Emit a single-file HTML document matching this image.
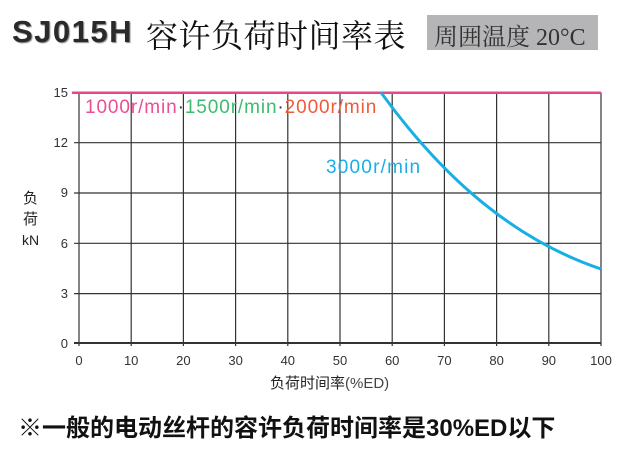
<!DOCTYPE html>
<html><head><meta charset="utf-8"><style>
body{margin:0;width:632px;height:460px;background:#fff;overflow:hidden;position:relative;font-family:"Liberation Sans","Noto Sans CJK SC",sans-serif}
.a{position:absolute;white-space:nowrap}
</style></head><body>
<div class="a" style="left:12px;top:14px;font-size:31px;font-weight:bold;color:#2a2a2a;letter-spacing:1.5px;text-shadow:1px 1px 1px #888">SJ015H</div>
<div class="a" style="left:146px;top:11px;font-size:32px;color:#111;letter-spacing:0.5px;font-family:'Noto Serif CJK SC','Noto Sans CJK SC',serif">容许负荷时间率表</div>
<div class="a" style="left:427px;top:15px;width:171px;height:35px;background:#b5b5b7"></div>
<div class="a" style="left:434px;top:17px;font-size:24px;color:#333;font-family:'Liberation Serif','Noto Serif CJK SC',serif">周囲温度 20°C</div>
<svg class="a" style="left:0;top:0" width="632" height="460">
<g stroke="#333" stroke-width="1.2">
<line x1="79" y1="92.5" x2="79" y2="346"/><line x1="131.2" y1="92.5" x2="131.2" y2="346"/><line x1="183.4" y1="92.5" x2="183.4" y2="346"/><line x1="235.6" y1="92.5" x2="235.6" y2="346"/><line x1="287.8" y1="92.5" x2="287.8" y2="346"/><line x1="340" y1="92.5" x2="340" y2="346"/><line x1="392.2" y1="92.5" x2="392.2" y2="346"/><line x1="444.4" y1="92.5" x2="444.4" y2="346"/><line x1="496.6" y1="92.5" x2="496.6" y2="346"/><line x1="548.8" y1="92.5" x2="548.8" y2="346"/><line x1="601" y1="92.5" x2="601" y2="346"/>
<line x1="74" y1="142.7" x2="601" y2="142.7"/><line x1="74" y1="193" x2="601" y2="193"/><line x1="74" y1="243.3" x2="601" y2="243.3"/><line x1="74" y1="293.6" x2="601" y2="293.6"/>
<line x1="74" y1="343" x2="601" y2="343" stroke-width="2"/>
</g>
<line x1="72" y1="92.8" x2="601" y2="92.8" stroke="#e8468c" stroke-width="2.5"/>
<path d="M381,92.5 C430,160 500,235 601,269" fill="none" stroke="#19aee6" stroke-width="3"/>
<g font-size="13" fill="#333" text-anchor="end" font-family="Liberation Sans,sans-serif">
<text x="68" y="97">15</text><text x="68" y="147">12</text><text x="68" y="197">9</text><text x="68" y="248">6</text><text x="68" y="298">3</text><text x="68" y="348">0</text></g>
<g font-size="13" fill="#333" text-anchor="middle" font-family="Liberation Sans,sans-serif">
<text x="79" y="365">0</text><text x="131.2" y="365">10</text><text x="183.4" y="365">20</text><text x="235.6" y="365">30</text><text x="287.8" y="365">40</text><text x="340" y="365">50</text><text x="392.2" y="365">60</text><text x="444.4" y="365">70</text><text x="496.6" y="365">80</text><text x="548.8" y="365">90</text><text x="601" y="365">100</text></g>
</svg>
<div class="a" style="left:85px;top:97px;font-size:19px;letter-spacing:0.9px;color:#333"><span style="color:#ec4d93">1000r/min</span>·<span style="color:#3dbb6e">1500r/min</span>·<span style="color:#f05a3a">2000r/min</span></div>
<div class="a" style="left:326px;top:157px;font-size:19px;letter-spacing:1.2px;color:#1aaee6">3000r/min</div>
<div class="a" style="left:22px;top:188px;font-size:15px;color:#222;line-height:21px;text-align:center">负<br>荷<br><span style="font-size:14px">kN</span></div>
<div class="a" style="left:270px;top:372px;font-size:15px;color:#222">负荷时间率<span style="color:#444">(%ED)</span></div>
<div class="a" style="left:18px;top:408px;font-size:24px;font-weight:bold;color:#111">※一般的电动丝杆的容许负荷时间率是30%ED以下</div>
</body></html>
